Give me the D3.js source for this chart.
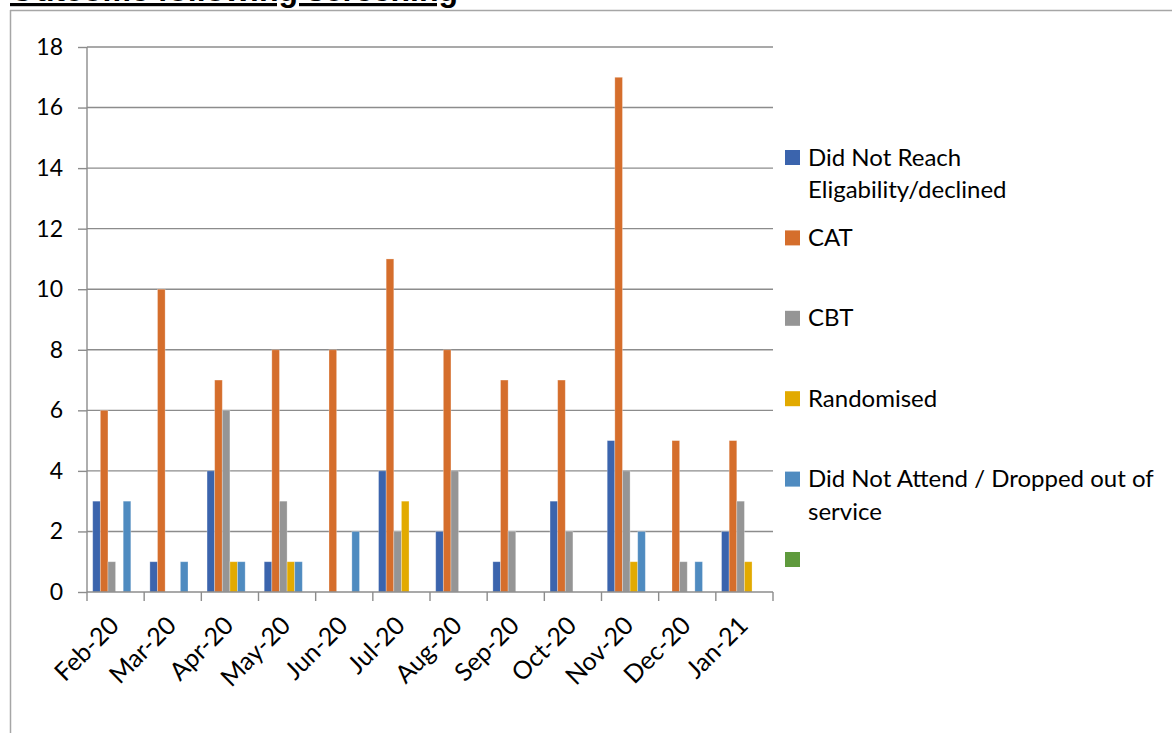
<!DOCTYPE html>
<html>
<head>
<meta charset="utf-8">
<script src="https://cdn.jsdelivr.net/npm/d3@7"></script>
<style>
  html, body { margin: 0; padding: 0; background: #fff; }
  svg { display: block; }
</style>
</head>
<body>
<svg id="chart" width="1172" height="733"></svg>
<script>
// Monthly outcomes after screening
const months = ["Feb-20", "Mar-20", "Apr-20", "May-20", "Jun-20", "Jul-20",
                "Aug-20", "Sep-20", "Oct-20", "Nov-20", "Dec-20", "Jan-21"];

const seriesNames = [
  "Did Not Reach Eligability/declined",
  "CAT",
  "CBT",
  "Randomised",
  "Did Not Attend / Dropped out of service",
  ""
];

const didNotReach = [3, 1, 4, 1, 0, 4, 2, 1, 3, 5, 0, 2];
const cat         = [6, 10, 7, 8, 8, 11, 8, 7, 7, 17, 5, 5];
const cbt         = [1, 0, 6, 3, 0, 2, 4, 2, 2, 4, 1, 3];
const randomised  = [0, 0, 1, 1, 0, 3, 0, 0, 0, 1, 0, 1];
const didNotAttend = [3, 1, 1, 1, 2, 0, 0, 0, 0, 2, 1, 0];
const blankSeries = [null, null, null, null, null, null, null, null, null, null, null, null];

const yTicks = [0, 2, 4, 6, 8, 10, 12, 14, 16, 18];

const seriesValues = [didNotReach, cat, cbt, randomised, didNotAttend, blankSeries];
const seriesColors = ["#3b64ad", "#d56e2c", "#959595", "#e2aa00", "#4f8bc0", "#5f9a3d"];

const svg = d3.select("#chart");
const font = "Lato, 'Open Sans', sans-serif";

// Outer frame of the chart object
svg.append("line").attr("x1", 10.5).attr("x2", 10.5).attr("y1", 10).attr("y2", 733)
  .attr("stroke", "#a6a6a6").attr("stroke-width", 1.5);
svg.append("line").attr("x1", 10).attr("x2", 1172).attr("y1", 10.5).attr("y2", 10.5)
  .attr("stroke", "#a6a6a6").attr("stroke-width", 1.5);

// Heading, sitting partly above the top edge
svg.append("text")
  .attr("x", 10).attr("y", 1)
  .attr("font-family", "'Liberation Sans', Arial, sans-serif")
  .attr("font-weight", "bold")
  .attr("font-size", 32)
  .attr("text-decoration", "underline")
  .attr("fill", "#000")
  .text("Outcome following screening");

// Plot area
const plotLeft = 87, plotRight = 773, plotTop = 47, plotBottom = 592;

const x0 = d3.scaleBand().domain(months).range([plotLeft, plotRight]).padding(0);
const x1 = d3.scaleBand().domain(d3.range(seriesNames.length))
  .range([0, x0.bandwidth()]).paddingInner(0).paddingOuter(0.75);
const y = d3.scaleLinear().domain([0, 18]).range([plotBottom, plotTop]);

// Horizontal gridlines
svg.append("g").selectAll("line").data(yTicks.filter(d => d > 0)).join("line")
  .attr("x1", plotLeft).attr("x2", plotRight)
  .attr("y1", d => y(d)).attr("y2", d => y(d))
  .attr("stroke", "#8c8c8c").attr("stroke-width", 1.4);

// Bars
const gBars = svg.append("g");
seriesValues.forEach((vals, si) => {
  gBars.append("g").selectAll("rect")
    .data(vals.map((v, i) => ({ m: months[i], v })).filter(d => d.v != null && d.v > 0))
    .join("rect")
    .attr("x", d => x0(d.m) + x1(si))
    .attr("width", x1.bandwidth())
    .attr("y", d => y(d.v))
    .attr("height", d => y(0) - y(d.v))
    .attr("fill", seriesColors[si])
    .attr("stroke", "#ffffff").attr("stroke-opacity", 0.35).attr("stroke-width", 0.8);
});

// Y axis
const yAxis = d3.axisLeft(y).tickValues(yTicks).tickSize(9).tickPadding(15);
const gy = svg.append("g").attr("transform", `translate(${plotLeft},0)`).call(yAxis);
gy.select(".domain").attr("stroke", "#8c8c8c").attr("stroke-width", 1.4)
  .attr("d", `M0,${plotTop}V${plotBottom}`);
gy.selectAll(".tick line").attr("stroke", "#8c8c8c").attr("stroke-width", 1.4);
gy.selectAll(".tick text")
  .attr("font-family", font).attr("font-size", 23).attr("fill", "#000");

// X axis: ticks on category boundaries
const boundaries = months.map(m => x0(m)).concat([plotRight]);
const gx = svg.append("g");
gx.append("line").attr("x1", plotLeft).attr("x2", plotRight).attr("y1", plotBottom).attr("y2", plotBottom)
  .attr("stroke", "#8c8c8c").attr("stroke-width", 1.4);
gx.selectAll("line.tk").data(boundaries).join("line").attr("class", "tk")
  .attr("x1", d => d).attr("x2", d => d).attr("y1", plotBottom).attr("y2", plotBottom + 9)
  .attr("stroke", "#8c8c8c").attr("stroke-width", 1.4);
gx.selectAll("text").data(months).join("text")
  .attr("transform", d => `translate(${x0(d) + x0.bandwidth() / 2 + 5},${plotBottom + 35}) rotate(-45)`)
  .attr("text-anchor", "end")
  .attr("font-family", font).attr("font-size", 25).attr("fill", "#000")
  .text(d => d);

// Legend
const legendItems = [
  { lines: ["Did Not Reach", "Eligability/declined"] },
  { lines: ["CAT"] },
  { lines: ["CBT"] },
  { lines: ["Randomised"] },
  { lines: ["Did Not Attend / Dropped out of", "service"] },
  { lines: [] }
];
const legend = svg.append("g");
legendItems.forEach((item, i) => {
  const cy = 157.5 + i * 80.4;
  legend.append("rect")
    .attr("x", 785).attr("y", cy - 7.5).attr("width", 15).attr("height", 15)
    .attr("fill", seriesColors[i]);
  item.lines.forEach((ln, k) => {
    legend.append("text")
      .attr("x", 808).attr("y", cy + 8 + k * 32.5)
      .attr("font-family", font).attr("font-size", 24).attr("fill", "#000")
      .text(ln);
  });
});
</script>
</body>
</html>
